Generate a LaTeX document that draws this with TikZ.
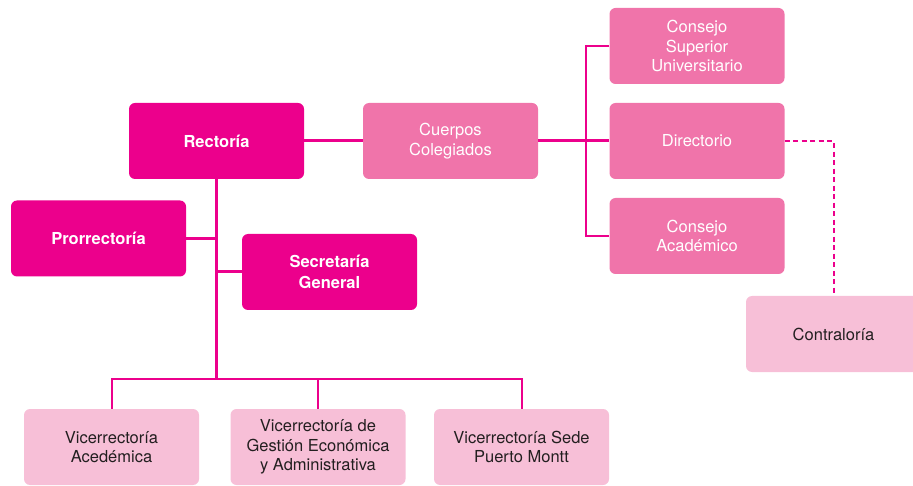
\documentclass[tikz,border=0pt]{standalone}
\usepackage{fontspec}
\setmainfont{TeX Gyre Heros}
\usetikzlibrary{positioning, calc}

\definecolor{magdark}{HTML}{EC008C}
\definecolor{magmid}{HTML}{F074AA}
\definecolor{maglight}{HTML}{F7BFD7}
\definecolor{txtdark}{HTML}{231F20}

\tikzset{
  unitbox/.style={rectangle, rounded corners=6pt, minimum width=175pt, minimum height=76pt,
    inner sep=0pt, align=center, font=\fontsize{16.5}{19.5}\selectfont},
  headbox/.style={unitbox, fill=magdark, text=white, font=\fontsize{16.5}{20.5}\selectfont\bfseries},
  councilbox/.style={unitbox, fill=magmid, text=white},
  vicebox/.style={unitbox, fill=maglight, text=txtdark},
  mainline/.style={draw=magdark, line width=3pt},
  branchline/.style={draw=magdark, line width=2pt},
}

\begin{document}
\begin{tikzpicture}[x=1pt, y=1pt]
\useasboundingbox (0,0) rectangle (913,-486);

% Authorities
\node[headbox] (rect) at (216.5,-141) {Rectoría};
\node[headbox] (prorr) at (98.5,-238.5) {Prorrectoría};
\node[headbox] (secre) at (329.5,-272) {Secretaría\\General};

% Collegiate bodies
\node[councilbox] (cuerpos) at (450.5,-141) {Cuerpos\\Colegiados};
\node[councilbox] (csu) at (697,-46) {Consejo\\Superior\\Universitario};
\node[councilbox] (dir) at (697,-141) {Directorio};
\node[councilbox] (cacad) at (697,-236) {Consejo\\Académico};
\node[vicebox] (contra) at (833.5,-334) {Contraloría};

% Vice-rectorates
\node[vicebox] (vacad) at (111.5,-447) {Vicerrectoría\\Acedémica};
\node[vicebox] (vgest) at (318,-447) {Vicerrectoría de\\Gestión Económica\\y Administrativa};
\node[vicebox] (vpm) at (521.5,-447) {Vicerrectoría Sede\\Puerto Montt};

% Bus points
\coordinate (rbus) at (586,-141);
\coordinate (lbus) at (216.5,-379);

% Connectors
\draw[mainline] (rect.east) -- (cuerpos.west);
\draw[mainline] (cuerpos.east) -- (dir.west);
\draw[branchline] (csu.west) -| (rbus) |- (cacad.west);
\draw[mainline] (rect.south) -- (lbus);
\draw[mainline] (prorr.east) -- (prorr.east -| lbus);
\draw[mainline] (secre.west) -- (secre.west -| lbus);
\draw[branchline] (vacad.north) |- (lbus) -| (vpm.north);
\draw[branchline] (vgest.north) -- (vgest.north |- lbus);
\draw[branchline, dash pattern=on 5pt off 3.5pt] (dir.east) -| (contra.north);
\end{tikzpicture}
\end{document}
